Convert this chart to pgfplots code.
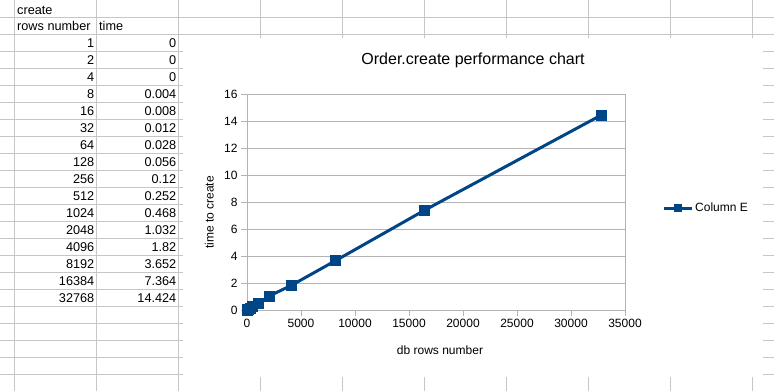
\documentclass[border=0pt]{standalone}
\usepackage{pgfplots}
\pgfplotsset{compat=1.18}
\usepackage{fontspec}
\setmainfont{Liberation Sans}
\definecolor{lo}{HTML}{004586}
\definecolor{gridc}{HTML}{B3B3B3}
\definecolor{cellc}{HTML}{C6C6C6}
\begin{document}
\begin{tikzpicture}
\useasboundingbox (0pt,0pt) rectangle (774pt,-391pt);
\begin{scope}[x=1pt,y=1pt]
\clip (0,0) rectangle (774,-391);
\fill[white] (0,0) rectangle (774,-391);
\foreach \y in {17,34,...,391} \draw[cellc,line width=1pt] (0,-\y) -- (774,-\y);
\foreach \x in {14,96,...,752} \draw[cellc,line width=1pt] (\x,0) -- (\x,-391);
\fill[white] (183,-38) rectangle (763,-377);
\begin{scope}[font=\fontsize{12.7}{15}\selectfont, every node/.style={inner sep=0pt}]
\node[anchor=base west] at (17,-14) {create};
\node[anchor=base west] at (17,-30.8) {rows number};
\node[anchor=base west] at (99,-30.8) {time};
\foreach \n/\t [count=\i from 0] in {1/0,2/0,4/0,8/0.004,16/0.008,32/0.012,64/0.028,128/0.056,256/0.12,512/0.252,1024/0.468,2048/1.032,4096/1.82,8192/3.652,16384/7.364,32768/14.424} {
  \node[anchor=base east] at (94.5,{-(47.8+17*\i)}) {\n};
  \node[anchor=base east] at (176.5,{-(47.8+17*\i)}) {\t};
}
\end{scope}
\end{scope}
\begin{axis}[
  at={(247pt,-310pt)}, anchor=south west,
  scale only axis, width=378pt, height=216pt,
  xmin=0, xmax=35000, ymin=0, ymax=16,
  xtick={0,5000,...,35000}, ytick={0,2,...,16},
  scaled x ticks=false,
  /pgf/number format/set thousands separator={},
  /pgf/number format/assume math mode=true,
  ymajorgrids, grid style={gridc, line width=1pt},
  axis line style={gridc, line width=1pt},
  tick align=outside, major tick length=6pt,
  tick style={gridc, line width=1pt},
  xtick pos=bottom, ytick pos=left,
  tick label style={font=\fontsize{12}{14}\selectfont},
  title={Order.create performance chart},
  title style={font=\fontsize{16}{19}\selectfont, anchor=base, at={(0.598,1.1065)}},
  xlabel={db rows number},
  xlabel style={font=\fontsize{12}{14}\selectfont, anchor=base, at={(0.5106,-0.2037)}},
  ylabel={time to create},
  ylabel style={font=\fontsize{12}{14}\selectfont, anchor=base, at={(-0.0886,0.451)}},
  clip=false,
  legend style={at={(1.098,0.472)}, anchor=west, draw=none, fill=none,
    font=\fontsize{12}{14}\selectfont, inner sep=0pt, cells={anchor=west}},
  legend image code/.code={\draw[mark repeat=2,mark phase=2,#1,mark size=3.6pt] plot coordinates {(0pt,0pt) (14pt,0pt) (28pt,0pt)};},
]
\addplot[lo, line width=3pt, mark=square*, mark size=5pt, mark options={solid, fill=lo, draw=lo, line width=0.5pt}]
coordinates {(1,0) (2,0) (4,0) (8,0.004) (16,0.008) (32,0.012) (64,0.028) (128,0.056) (256,0.12) (512,0.252) (1024,0.468) (2048,1.032) (4096,1.82) (8192,3.652) (16384,7.364) (32768,14.424)};
\addlegendentry{Column E}
\end{axis}
\end{tikzpicture}
\end{document}
